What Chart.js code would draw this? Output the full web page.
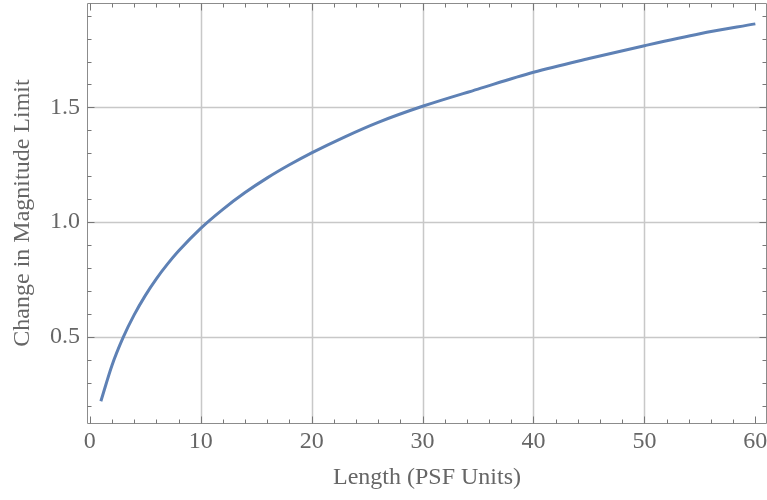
<!DOCTYPE html>
<html>
<head>
<meta charset="utf-8">
<script src="https://cdn.jsdelivr.net/npm/chart.js@4"></script>
<style>html,body{margin:0;padding:0;background:#fff;}canvas{display:block;}</style>
</head>
<body>
<canvas id="c" width="767" height="500"></canvas>
<script>
// Data
const lengths = [1, 2, 3, 4, 5, 6, 7, 8, 10, 12, 14, 16, 18, 20, 23, 26, 30, 35, 40, 45, 50, 55, 60];
const magChange = [0.22, 0.376, 0.497, 0.596, 0.68, 0.753, 0.817, 0.874, 0.973, 1.056, 1.129, 1.193, 1.25, 1.302, 1.372, 1.435, 1.505, 1.58, 1.653, 1.713, 1.769, 1.821, 1.864];
const xTickLabels = [0, 10, 20, 30, 40, 50, 60];
const yTickLabels = [0.5, 1.0, 1.5];
const xGridValues = [10, 20, 30, 40, 50];
const yGridValues = [0.5, 1.0, 1.5];
const xMinorStep = 2;
const yMinorStep = 0.1;

const X_MIN = -0.25, X_MAX = 61.05, Y_MIN = 0.125, Y_MAX = 1.955;
const textColor = '#666666';
const fontFamily = '"Liberation Serif", "DejaVu Serif", serif';

const framePlugin = {
  id: 'frame',
  beforeDatasetsDraw(chart) {
    const {ctx, chartArea: a, scales: {x, y}} = chart;
    ctx.save();
    ctx.strokeStyle = '#c8c8c8';
    ctx.lineWidth = 1.5;
    xGridValues.forEach(v => {
      const px = Math.round(x.getPixelForValue(v)) + 0.5;
      ctx.beginPath(); ctx.moveTo(px, a.top); ctx.lineTo(px, a.bottom); ctx.stroke();
    });
    yGridValues.forEach(v => {
      const py = Math.round(y.getPixelForValue(v)) + 0.5;
      ctx.beginPath(); ctx.moveTo(a.left, py); ctx.lineTo(a.right, py); ctx.stroke();
    });
    ctx.restore();
  },
  afterDatasetsDraw(chart) {
    const {ctx, chartArea: a, scales: {x, y}} = chart;
    ctx.save();
    ctx.strokeStyle = '#8c8c8c';
    ctx.lineWidth = 1;
    const L = Math.round(a.left) + 0.5, R = Math.round(a.right) - 0.5;
    const T = Math.round(a.top) + 0.5, B = Math.round(a.bottom) + 0.5;
    ctx.beginPath();
    ctx.moveTo(L, T); ctx.lineTo(R, T); ctx.lineTo(R, B); ctx.lineTo(L, B); ctx.closePath();
    ctx.stroke();
    ctx.strokeStyle = '#777777';
    for (let i = 0; i * xMinorStep <= 60 + 1e-9; i++) {
      const v = i * xMinorStep;
      const major = (v % 10) === 0;
      const len = major ? 7 : 4;
      const px = Math.round(x.getPixelForValue(v)) + 0.5;
      ctx.beginPath(); ctx.moveTo(px, B); ctx.lineTo(px, B - len); ctx.stroke();
      ctx.beginPath(); ctx.moveTo(px, T); ctx.lineTo(px, T + len); ctx.stroke();
    }
    for (let i = 2; i <= 19; i++) {
      const v = i * yMinorStep;
      const major = (i % 5) === 0;
      const len = major ? 7 : 4;
      const py = Math.round(y.getPixelForValue(v)) + 0.5;
      ctx.beginPath(); ctx.moveTo(L, py); ctx.lineTo(L + len, py); ctx.stroke();
      ctx.beginPath(); ctx.moveTo(R, py); ctx.lineTo(R - len, py); ctx.stroke();
    }
    ctx.restore();
  }
};

new Chart(document.getElementById('c'), {
  type: 'line',
  data: {
    datasets: [{
      data: lengths.map((v, i) => ({x: v, y: magChange[i]})),
      borderColor: '#5e81b5',
      borderWidth: 3,
      pointRadius: 0,
      fill: false,
      cubicInterpolationMode: 'monotone'
    }]
  },
  options: {
    responsive: false,
    animation: false,
    layout: {padding: {left: 0, top: 3, right: 0, bottom: 0}},
    plugins: {legend: {display: false}, tooltip: {enabled: false}},
    scales: {
      x: {
        type: 'linear', min: X_MIN, max: X_MAX,
        afterBuildTicks(s) { s.ticks = xTickLabels.map(v => ({value: v})); },
        afterFit(s) { s.height = 77; s.paddingLeft = 0; s.paddingRight = 0; },
        grid: {display: false, drawTicks: false},
        border: {display: false},
        ticks: {color: textColor, font: {family: fontFamily, size: 24}, padding: 4, maxRotation: 0,
                callback: v => String(v)},
        title: {display: true, text: 'Length (PSF Units)', color: textColor,
                font: {family: fontFamily, size: 24}, padding: {top: 0, bottom: 8}}
      },
      y: {
        type: 'linear', min: Y_MIN, max: Y_MAX,
        afterBuildTicks(s) { s.ticks = yTickLabels.map(v => ({value: v})); },
        afterFit(s) { s.width = 87; s.paddingTop = 0; s.paddingBottom = 0; },
        grid: {display: false, drawTicks: false},
        border: {display: false},
        ticks: {color: textColor, font: {family: fontFamily, size: 24}, padding: 7,
                callback: v => Number(v).toFixed(1)},
        title: {display: true, text: 'Change in Magnitude Limit', color: textColor,
                font: {family: fontFamily, size: 24}, padding: {top: 8, bottom: 0}}
      }
    }
  },
  plugins: [framePlugin]
});
</script>
</body>
</html>
